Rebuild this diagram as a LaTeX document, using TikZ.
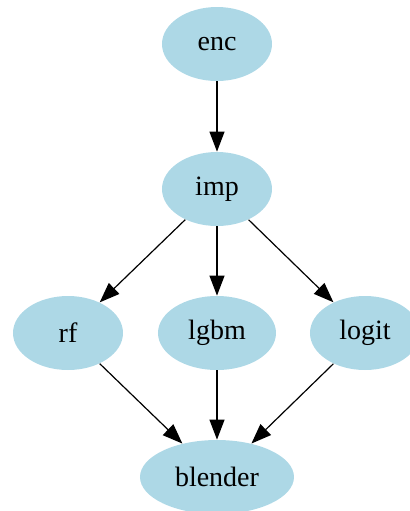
\documentclass[tikz,border=0pt]{standalone}
\usepackage{fontspec}
\setmainfont{Liberation Serif}
\usetikzlibrary{shapes.geometric,arrows.meta}
\definecolor{lightblue}{HTML}{ADD8E6}
\begin{document}
\begin{tikzpicture}[x=0.5pt,y=-0.5pt,
  nd/.style={ellipse,fill=lightblue,draw=none,minimum width=55pt,minimum height=37pt,inner sep=0pt,font=\fontsize{14}{16}\selectfont},
  edge/.style={draw=black,line width=0.6pt,-{Triangle[length=10pt,width=7.5pt]}}]
\useasboundingbox (0,0) rectangle (409,511);
\node[nd] (enc) at (217,44) {enc};
\node[nd] (imp) at (217,189) {imp};
\node[nd] (rf) at (68,333) {rf};
\node[nd,minimum width=59pt] (lgbm) at (217,333) {lgbm};
\node[nd] (logit) at (365,333) {logit};
\node[nd,minimum width=77pt] (blender) at (217,477) {blender};
\draw[edge] (enc) -- (imp);
\draw[edge] (imp) -- (rf);
\draw[edge] (imp) -- (lgbm);
\draw[edge] (imp) -- (logit);
\draw[edge] (rf) -- (blender);
\draw[edge] (lgbm) -- (blender);
\draw[edge] (logit) -- (blender);
\end{tikzpicture}
\end{document}
